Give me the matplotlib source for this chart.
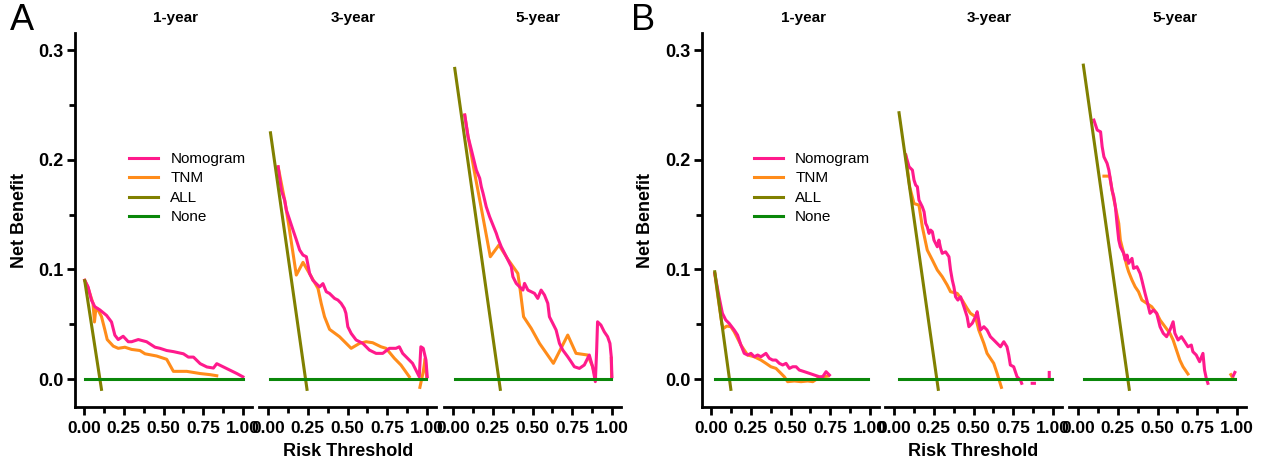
import numpy as np
import matplotlib
matplotlib.use("Agg")
import matplotlib.pyplot as plt
from matplotlib.lines import Line2D
from matplotlib.ticker import MultipleLocator

plt.rcParams['font.family'] = ['Liberation Sans', 'DejaVu Sans']

nan = np.nan
# ---------------- data (threshold, net benefit) ----------------
years = ["1-year", "3-year", "5-year"]
models = ["Nomogram", "TNM", "ALL", "None"]
colors = {"Nomogram": "#FF1A8C", "TNM": "#FF8C1A", "ALL": "#808000", "None": "#0A870A"}
xticks = [0.00, 0.25, 0.50, 0.75, 1.00]
yticks = [0.0, 0.1, 0.2, 0.3]

# Panel A, 1-year
A1_NOMO_X = [0.006, 0.027, 0.048, 0.069, 0.101, 0.143, 0.174, 0.195, 0.216, 0.247, 0.279, 0.300, 0.342, 0.394, 0.447,
             0.478, 0.520, 0.562, 0.625, 0.656, 0.688, 0.730, 0.772, 0.813, 0.834, 0.876, 0.918, 0.960, 0.998]
A1_NOMO_Y = [0.090, 0.084, 0.072, 0.066, 0.063, 0.058, 0.052, 0.040, 0.036, 0.039, 0.034, 0.034, 0.036, 0.034, 0.029,
             0.028, 0.026, 0.025, 0.023, 0.020, 0.020, 0.014, 0.011, 0.010, 0.014, 0.011, 0.008, 0.005, 0.002]
A1_TNM_X = [0.006, 0.027, 0.058, 0.067, 0.075, 0.086, 0.111, 0.132, 0.147, 0.185, 0.216, 0.258, 0.300, 0.352, 0.384,
            0.457, 0.520, 0.562, 0.646, 0.730, 0.792, 0.834]
A1_TNM_Y = [0.090, 0.083, 0.069, 0.052, 0.063, 0.064, 0.057, 0.045, 0.036, 0.030, 0.028, 0.029, 0.027, 0.026, 0.023,
            0.021, 0.018, 0.007, 0.007, 0.005, 0.004, 0.003]
A1_ALL_X = [0.006, 0.111]
A1_ALL_Y = [0.0896, -0.0094]

# Panel A, 3-year
A3_NOMO_X = [0.065, 0.085, 0.106, 0.117, 0.1375, 0.158, 0.179, 0.200, 0.221, 0.242, 0.2625, 0.283, 0.304, 0.325, 0.346,
             0.367, 0.3875, 0.419, 0.440, 0.460, 0.480, 0.490, 0.502, 0.523, 0.554, 0.596, 0.6375, 0.679, 0.721,
             0.7625, 0.804, 0.825, 0.846, 0.867, 0.8875, 0.908, 0.929, 0.950, 0.960, 0.975, 0.992, 1.000]
A3_NOMO_Y = [0.1935, 0.172, 0.163, 0.154, 0.145, 0.136, 0.127, 0.1176, 0.113, 0.1115, 0.0963, 0.090, 0.087, 0.084, 0.087,
             0.0796, 0.078, 0.0735, 0.072, 0.069, 0.0644, 0.060, 0.0477, 0.0416, 0.0356, 0.0325, 0.0264, 0.0234, 0.0234,
             0.028, 0.028, 0.0294, 0.0234, 0.0203, 0.0173, 0.0143, 0.0082, 0.0021, 0.0294, 0.028, 0.0173, 0.0021]
A3_TNM_X = [0.065, 0.106, 0.133, 0.179, 0.221, 0.273, 0.315, 0.335, 0.356, 0.3875, 0.450, 0.523, 0.575, 0.617, 0.658,
            0.710, 0.742, 0.794, 0.835, 0.8875, nan, 0.954, 0.975, 0.9875, 0.996]
A3_TNM_Y = [0.1935, 0.163, 0.139, 0.0948, 0.1064, 0.0933, 0.0826, 0.069, 0.0568, 0.0453, 0.0386, 0.028, 0.0325, 0.034,
            0.0331, 0.0294, 0.028, 0.0189, 0.0128, 0.0021, nan, -0.0076, 0.0067, 0.0189, 0.0021]
A3_ALL_X = [0.017, 0.246]
A3_ALL_Y = [0.2245, -0.0094]

# Panel A, 5-year
A5_NOMO_X = [0.075, 0.096, 0.117, 0.1375, 0.148, 0.169, 0.179, 0.190, 0.210, 0.231, 0.252, 0.273, 0.283, 0.304, 0.325,
             0.346, 0.367, 0.377, 0.398, 0.419, 0.440, 0.450, 0.471, 0.492, 0.5125, 0.533, 0.554, 0.575, 0.596, 0.606,
             0.627, 0.648, 0.669, 0.690, 0.721, 0.742, 0.7625, 0.794, 0.825, 0.856, 0.877, 0.894, 0.902, 0.908, 0.929,
             0.950, 0.971, 0.9856, 0.994, 0.998]
A5_NOMO_Y = [0.2407, 0.2209, 0.2088, 0.1966, 0.1905, 0.183, 0.1753, 0.1693, 0.157, 0.148, 0.1404, 0.1328, 0.1283, 0.1206,
             0.1146, 0.1085, 0.1024, 0.0933, 0.0872, 0.0841, 0.0811, 0.0872, 0.0811, 0.0796, 0.0781, 0.0735, 0.0811,
             0.0766, 0.069, 0.0568, 0.0508, 0.0447, 0.0325, 0.0264, 0.0203, 0.0158, 0.0112, 0.0097, 0.0128, 0.0219,
             0.0112, -0.0024, 0.0249, 0.0522, 0.0492, 0.0431, 0.0386, 0.0325, 0.0203, 0.0021]
A5_TNM_X = [0.075, 0.096, 0.1375, 0.185, 0.2354, 0.2896, 0.346, 0.408, 0.423, 0.444, 0.492, 0.544, 0.631, 0.721, 0.773,
            0.846, 0.877, 0.894, nan, 0.994, 0.996]
A5_TNM_Y = [0.2407, 0.2209, 0.1875, 0.151, 0.1115, 0.1222, 0.1091, 0.0963, 0.0811, 0.0568, 0.0462, 0.0325, 0.0143,
            0.0401, 0.0234, 0.0219, 0.0112, 0.0021, nan, 0.0189, 0.0021]
A5_ALL_X = [0.0125, 0.298]
A5_ALL_Y = [0.2832, -0.0094]

# Panel B, 1-year
B1_NOMO_X = [0.025, 0.052, 0.073, 0.094, 0.115, 0.147, 0.168, 0.189, 0.210, 0.231, 0.252, 0.273, 0.294, 0.3145, 0.346,
             0.367, 0.388, 0.409, 0.430, 0.451, 0.472, 0.493, 0.514, 0.535, 0.555, 0.587, 0.618, 0.650, 0.681, 0.702,
             0.723, 0.744]
B1_NOMO_Y = [0.0963, 0.075, 0.0599, 0.0538, 0.0508, 0.0447, 0.0401, 0.031, 0.0234, 0.0219, 0.0234, 0.0203, 0.0219,
             0.0203, 0.0234, 0.0189, 0.0173, 0.0173, 0.0143, 0.0128, 0.0143, 0.0097, 0.0112, 0.0112, 0.0082, 0.0067,
             0.0052, 0.0036, 0.0021, 0.0021, 0.0067, 0.0036]
B1_TNM_X = [0.025, 0.045, 0.070, 0.080, 0.1006, 0.126, 0.147, 0.168, 0.189, 0.210, 0.231, 0.273, 0.3145, 0.346, 0.377,
            0.409, 0.440, 0.461, 0.482, 0.524, 0.566, 0.608, 0.640, 0.671, 0.702, 0.734]
B1_TNM_Y = [0.0963, 0.075, 0.050, 0.0462, 0.0483, 0.0477, 0.0431, 0.0371, 0.031, 0.0264, 0.0219, 0.0203, 0.0173, 0.0143,
            0.0112, 0.0097, 0.0052, 0.0021, -0.0024, -0.0018, -0.0024, -0.0018, -0.0024, 0.0006, 0.0021, 0.0027]
B1_ALL_X = [0.025, 0.126]
B1_ALL_Y = [0.0978, -0.0094]

# Panel B, 3-year
B3_NOMO_X = [0.075, 0.096, 0.117, 0.127, 0.1375, 0.148, 0.158, 0.179, 0.190, 0.200, 0.210, 0.221, 0.231, 0.242, 0.252,
             0.273, 0.283, 0.294, 0.304, 0.325, 0.346, 0.356, 0.367, 0.377, 0.3875, 0.402, 0.419, 0.440, 0.460, 0.471,
             0.492, 0.5125, 0.523, 0.544, 0.565, 0.585, 0.606, 0.627, 0.648, 0.669, 0.690, 0.710, 0.721, 0.731, 0.752,
             0.773, 0.794, 0.802, nan, 0.868, 0.882, nan, 0.975, 0.975]
B3_NOMO_Y = [0.2042, 0.1935, 0.1905, 0.1814, 0.1768, 0.1753, 0.1632, 0.157, 0.1525, 0.1419, 0.1388, 0.1328, 0.1358,
             0.1343, 0.1267, 0.1206, 0.1267, 0.1191, 0.1146, 0.116, 0.1115, 0.0994, 0.0902, 0.0841, 0.075, 0.072,
             0.075, 0.0659, 0.0568, 0.0477, 0.0508, 0.0568, 0.0614, 0.0447, 0.0477, 0.0447, 0.0386, 0.0356, 0.0325,
             0.0294, 0.034, 0.0294, 0.0219, 0.0128, 0.0112, 0.0021, -0.0009, -0.0039, nan, -0.0039, -0.0039, nan,
             0.0060, 0.0015]
B3_TNM_X = [0.075, 0.100, 0.127, 0.158, 0.179, 0.210, 0.242, 0.273, 0.304, 0.335, 0.356, 0.398, 0.429, 0.460, 0.481,
            0.5125, 0.533, 0.565, 0.585, 0.627, 0.648, 0.675]
B3_TNM_Y = [0.2042, 0.175, 0.160, 0.1586, 0.1388, 0.1176, 0.1085, 0.0994, 0.0933, 0.0857, 0.0796, 0.0781, 0.072, 0.0644,
            0.0599, 0.0568, 0.0447, 0.0325, 0.0234, 0.0143, 0.0052, -0.0076]
B3_ALL_X = [0.033, 0.279]
B3_ALL_Y = [0.2428, -0.0094]

# Panel B, 5-year
B5_NOMO_X = [0.101, 0.122, 0.143, 0.153, 0.164, 0.184, 0.195, 0.205, 0.215, 0.226, 0.236, 0.246, 0.257, 0.267, 0.288,
             0.298, 0.309, 0.319, 0.340, 0.350, 0.371, 0.391, 0.402, 0.412, 0.422, 0.433, 0.443, 0.453, 0.474, 0.495,
             0.516, 0.536, 0.557, 0.578, 0.598, 0.609, 0.629, 0.650, 0.671, 0.691, 0.712, 0.722, 0.743, 0.764, 0.785,
             0.795, 0.806, 0.816, nan, 0.975, 0.985]
B5_NOMO_Y = [0.2361, 0.227, 0.2254, 0.2118, 0.2026, 0.1966, 0.1905, 0.1814, 0.1723, 0.1662, 0.157, 0.1419, 0.1267, 0.1206,
             0.1146, 0.1085, 0.113, 0.1055, 0.110, 0.1009, 0.1024, 0.0963, 0.0902, 0.0841, 0.0781, 0.072, 0.0659,
             0.0599, 0.0629, 0.0599, 0.0477, 0.0417, 0.0386, 0.0447, 0.0522, 0.0417, 0.0356, 0.0386, 0.034, 0.0294,
             0.031, 0.0249, 0.0219, 0.0158, 0.0234, 0.0082, 0.0006, -0.0039, nan, 0.0030, 0.0060]
B5_TNM_X = [0.164, 0.200, 0.215, 0.236, 0.257, 0.267, 0.288, 0.309, 0.319, 0.340, 0.360, 0.381, 0.402, 0.433, 0.464,
            0.495, 0.516, 0.547, 0.578, 0.598, 0.619, 0.640, 0.660, 0.691, nan, 0.960, 0.972]
B5_TNM_Y = [0.185, 0.185, 0.1723, 0.157, 0.1419, 0.1267, 0.1146, 0.1024, 0.0978, 0.0902, 0.0841, 0.0796, 0.072, 0.069,
            0.0659, 0.0599, 0.0538, 0.0477, 0.0417, 0.0356, 0.0264, 0.0173, 0.0112, 0.0046, nan, 0.0040, 0.0010]
B5_ALL_X = [0.035, 0.323]
B5_ALL_Y = [0.2862, -0.0094]

# "None" reference line: threshold range per subplot
NONE_X = {"A1": [0.01, 1.0], "A3": [0.017, 0.99], "A5": [0.0125, 0.99],
          "B1": [0.025, 0.986], "B3": [0.033, 0.992], "B5": [0.039, 0.988]}

panels = {
    "A": [("A1", A1_NOMO_X, A1_NOMO_Y, A1_TNM_X, A1_TNM_Y, A1_ALL_X, A1_ALL_Y),
          ("A3", A3_NOMO_X, A3_NOMO_Y, A3_TNM_X, A3_TNM_Y, A3_ALL_X, A3_ALL_Y),
          ("A5", A5_NOMO_X, A5_NOMO_Y, A5_TNM_X, A5_TNM_Y, A5_ALL_X, A5_ALL_Y)],
    "B": [("B1", B1_NOMO_X, B1_NOMO_Y, B1_TNM_X, B1_TNM_Y, B1_ALL_X, B1_ALL_Y),
          ("B3", B3_NOMO_X, B3_NOMO_Y, B3_TNM_X, B3_TNM_Y, B3_ALL_X, B3_ALL_Y),
          ("B5", B5_NOMO_X, B5_NOMO_Y, B5_TNM_X, B5_TNM_Y, B5_ALL_X, B5_ALL_Y)],
}

# ---------------- layout ----------------
W, H = 1263, 463
fig = plt.figure(figsize=(W / 100, H / 100), dpi=100)

ax_lefts = {"A": [75, 259, 444], "B": [702, 885, 1069]}
ax_w = 177
ax_top, ax_bot = 33, 407
title_x = {"A": [176, 353, 538], "B": [803, 989, 1175]}
letter_x = {"A": 10, "B": 631}
netlab_x = {"A": 20, "B": 645}
risk_x = {"A": 348, "B": 973}
legend_x = {"A": 129, "B": 754}

lw = 2.2
for pname, subs in panels.items():
    for i, (key, nx, ny, tx, ty, ax_x, ax_y) in enumerate(subs):
        left = ax_lefts[pname][i]
        ax = fig.add_axes([left / W, 1 - ax_bot / H, ax_w / W, (ax_bot - ax_top) / H])
        ax.plot(tx, ty, color=colors["TNM"], lw=lw)
        ax.plot(nx, ny, color=colors["Nomogram"], lw=lw)
        ax.plot(ax_x, ax_y, color=colors["ALL"], lw=lw)
        ax.plot(NONE_X[key], [0, 0], color=colors["None"], lw=lw)
        ax.set_xlim(-0.055, 1.055)
        ax.set_ylim(-0.0255, 0.3155)
        ax.set_xticks(xticks)
        ax.set_xticklabels([f"{v:.2f}" for v in xticks], fontsize=12.5, fontweight='bold')
        ax.xaxis.set_minor_locator(MultipleLocator(0.125))
        for s in ["top", "right"]:
            ax.spines[s].set_visible(False)
        ax.spines["bottom"].set_linewidth(2)
        ax.tick_params(axis='x', which='major', length=6, width=2, pad=4)
        ax.tick_params(axis='x', which='minor', length=4, width=2)
        if i == 0:
            ax.spines["left"].set_linewidth(2)
            ax.set_yticks(yticks)
            ax.set_yticklabels([f"{v:.1f}" for v in yticks], fontsize=13, fontweight='bold')
            ax.yaxis.set_minor_locator(MultipleLocator(0.05))
            ax.tick_params(axis='y', which='major', length=6, width=2, pad=2)
            ax.tick_params(axis='y', which='minor', length=4, width=2)
        else:
            ax.spines["left"].set_visible(False)
            ax.set_yticks([])
            ax.tick_params(axis='y', which='both', left=False)
        ax.patch.set_alpha(0)
        fig.text(title_x[pname][i] / W, 1 - 18 / H, years[i], fontsize=11, fontweight='bold',
                 ha='center', va='center')
        if i == 0:
            handles = [Line2D([], [], color=colors[m], lw=lw) for m in models]
            ax.legend(handles, models, loc='upper left', frameon=False, fontsize=11,
                      bbox_to_anchor=(legend_x[pname] / W, 1 - 152 / H), bbox_transform=fig.transFigure,
                      borderpad=0, borderaxespad=0, handlelength=1.9, handletextpad=0.8, labelspacing=0.36)
    fig.text(letter_x[pname] / W, 1 - 21 / H, pname, fontsize=26, ha='left', va='center')
    fig.text(netlab_x[pname] / W, 1 - 220 / H, "Net Benefit", fontsize=13, fontweight='bold',
             rotation=90, ha='center', va='center')
    fig.text(risk_x[pname] / W, 1 - 452 / H, "Risk Threshold", fontsize=13, fontweight='bold',
             ha='center', va='center')

fig.savefig("out.png", dpi=100)
